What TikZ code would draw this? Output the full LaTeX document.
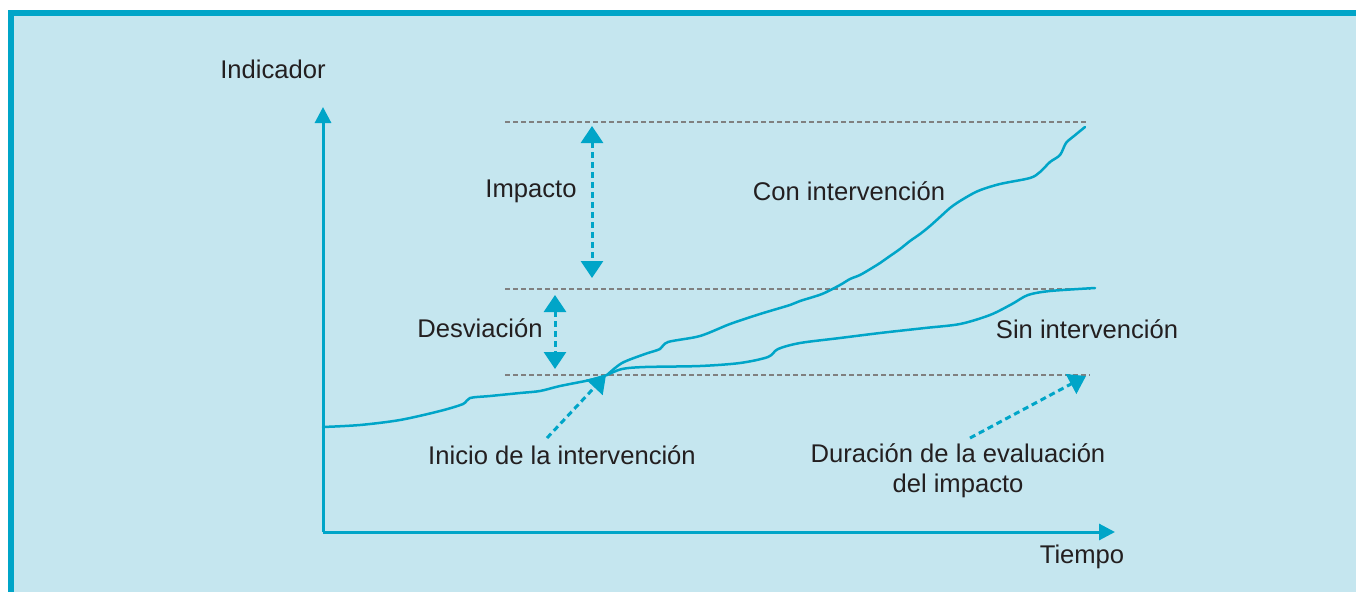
\documentclass[tikz,border=0pt]{standalone}
\usepackage{fontspec}
\setmainfont{Liberation Sans}
\usetikzlibrary{arrows.meta}
\definecolor{bgblue}{RGB}{197,230,239}
\definecolor{cyanb}{RGB}{0,165,200}
\definecolor{txt}{RGB}{35,31,32}
\definecolor{grayd}{RGB}{128,128,128}
\tikzset{
  lbl/.style={font=\fontsize{25.6}{30}\selectfont, text=txt, inner sep=0pt, align=center},
  axisline/.style={draw=cyanb, line width=3pt, -{Triangle[width=16pt,length=16pt]}},
  guide/.style={draw=grayd, line width=1.6pt, dash pattern=on 5pt off 3pt},
  darrow/.style={draw=cyanb, line width=3pt, dash pattern=on 6pt off 4pt, {Triangle[width=22pt,length=17pt]}-{Triangle[width=22pt,length=17pt]}},
  sarrow/.style={draw=cyanb, line width=3pt, dash pattern=on 6pt off 4pt, -{Triangle[width=22pt,length=17pt]}},
  curve/.style={draw=cyanb, line width=2.5pt, line join=round, line cap=round}
}
\begin{document}
\begin{tikzpicture}[x=1pt,y=-1pt]
\useasboundingbox (0,0) rectangle (1356,592);
% frame
\fill[bgblue] (8,10) rectangle (1356,592);
\fill[cyanb] (8,10) rectangle (1356,16);
\fill[cyanb] (8,10) rectangle (14,592);
% axes
\coordinate (O) at (323,532);
\coordinate (Ytop) at (323,107);
\coordinate (Xend) at (1115,532);
\draw[axisline] (O) -- (Ytop);
\draw[axisline] (O) -- (Xend);
% guide lines
\coordinate (g1a) at (505,122); \coordinate (g1b) at (1088,122);
\coordinate (g2a) at (505,289); \coordinate (g2b) at (1090,289);
\coordinate (g3a) at (505,375); \coordinate (g3b) at (1090,375);
\draw[guide] (g1a) -- (g1b);
\draw[guide] (g2a) -- (g2b);
\draw[guide] (g3a) -- (g3b);
% curves
\draw[curve] plot[smooth, tension=0.5] coordinates {(323,427) (360,425) (400,420) (440,411) (463,404) (470,398) (490,396) (520,393) (540,391) (560,386) (590,380) (607,375)};
\draw[curve] plot[smooth, tension=0.5] coordinates {(607,375) (622,369) (645,367) (700,366) (740,363) (768,357) (778,349) (800,343) (840,338) (880,333) (925,328) (960,324) (990,315) (1012,304) (1028,295) (1050,291) (1095,288)};
\draw[curve] plot[smooth, tension=0.5] coordinates {(607,375) (622,363) (645,354) (660,349) (668,342) (700,336) (730,324) (760,314) (790,305) (800,301) (822,294) (840,285) (850,279) (860,275) (872,268) (880,263) (890,256) (900,249) (910,241) (920,234) (930,226) (940,217) (950,208) (960,201) (978,191) (1000,184) (1030,178) (1040,172) (1050,162) (1060,155) (1066,143) (1074,136) (1085,127)};
% measurement arrows
\coordinate (i1) at (592,126); \coordinate (i2) at (592,278);
\coordinate (d1) at (555,295); \coordinate (d2) at (555,369);
\draw[darrow] (i1) -- (i2);
\draw[darrow] (d1) -- (d2);
\coordinate (s1) at (547,438); \coordinate (s2) at (606,375);
\coordinate (e1) at (970,438); \coordinate (e2) at (1086,376);
\draw[sarrow] (s1) -- (s2);
\draw[sarrow] (e1) -- (e2);
% labels
\node[lbl] (indicador) at (273,69) {Indicador};
\node[lbl] (impacto) at (531,191) {Impacto};
\node[lbl] (con) at (849,191) {Con intervención};
\node[lbl] (desv) at (480,328) {Desviación};
\node[lbl] (sin) at (1087,329) {Sin intervención};
\node[lbl] (inicio) at (562,455) {Inicio de la intervención};
\node[lbl] (dur) at (958,471) {Duración de la evaluación\\del impacto};
\node[lbl] (tiempo) at (1082,557) {Tiempo};
\end{tikzpicture}
\end{document}
